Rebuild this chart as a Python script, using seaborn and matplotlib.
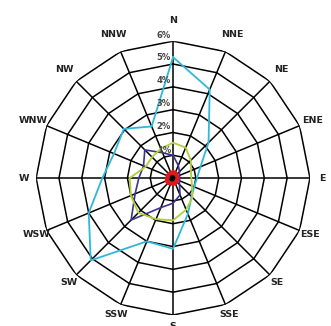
import numpy as np
import pandas as pd
import matplotlib
matplotlib.use("Agg")
import matplotlib.pyplot as plt
import seaborn as sns

directions = ["N", "NNE", "NE", "ENE", "E", "ESE", "SE", "SSE",
              "S", "SSW", "SW", "WSW", "W", "WNW", "NW", "NNW"]
cyan_vals = [5.3, 4.2, 2.2, 1.3, 1.05, 1.0, 1.15, 1.7,
             3.1, 3.0, 5.1, 4.0, 3.1, 2.8, 3.05, 2.45]
navy_vals = [1.0, 0.6, 0.4, 0.3, 0.3, 0.3, 0.4, 0.8,
             1.1, 1.4, 2.6, 1.8, 1.5, 1.4, 1.75, 1.2]
green_vals = [1.55, 1.45, 1.1, 0.85, 0.8, 0.9, 1.2, 1.5,
              1.85, 1.95, 2.15, 2.0, 1.9, 1.3, 1.3, 1.4]
red_vals = [0.25, 0.25, 0.2, 0.2, 0.2, 0.2, 0.2, 0.25,
            0.25, 0.25, 0.3, 0.3, 0.25, 0.25, 0.25, 0.25]
ring_labels = ["1%", "2%", "3%", "4%", "5%", "6%"]
ring_values = [1, 2, 3, 4, 5, 6]

series = {"cyan": cyan_vals, "navy": navy_vals, "green": green_vals, "red": red_vals}
palette = {"cyan": "#2fb8d8", "navy": "#3b3590", "green": "#b2cc3a", "red": "#e01818"}
widths = {"cyan": 1.3, "navy": 1.2, "green": 1.3, "red": 3.0}

angles = np.deg2rad(np.arange(len(directions)) * 22.5)
rows = []
for name, vals in series.items():
    for i in range(len(directions) + 1):
        k = i % len(directions)
        rows.append({"series": name, "order": i, "theta": angles[k], "r": vals[k]})
df = pd.DataFrame(rows)

sns.set_style("white")
fig = plt.figure(figsize=(3.31, 3.26), dpi=100)
ax = fig.add_axes([0.1088, 0.0337, 0.828, 0.840], projection="polar")
ax.set_theta_zero_location("N")
ax.set_theta_direction(-1)
ax.grid(False)
ax.spines["polar"].set_visible(False)
ax.set_facecolor("none")

closed = np.append(angles, angles[0])
for rv in ring_values:
    ax.plot(closed, [rv] * len(closed), color="black", lw=1.1, zorder=1)
for a in angles:
    ax.plot([a, a], [0, ring_values[-1]], color="black", lw=1.1, zorder=1)

for name in series:
    sub = df[df["series"] == name]
    sns.lineplot(data=sub, x="theta", y="r", sort=False, estimator=None,
                 color=palette[name], lw=widths[name], ax=ax, legend=False, zorder=3)
ax.set_xlabel("")
ax.set_ylabel("")
ax.set_xticks([])
ax.set_yticks([])
ax.set_ylim(0, 6)

px_per_unit = 23.0
for a, d in zip(angles, directions):
    r_px = 154 + 4.5 * np.cos(a) - 3.5 * abs(np.sin(a))
    ax.text(a, r_px / px_per_unit, d, ha="center", va="center", fontsize=6.8,
            fontweight="bold", color="#222222", clip_on=False)
for rv, lab in zip(ring_values, ring_labels):
    off = np.rad2deg(np.arctan2(9.5, rv * px_per_unit + 6))
    ax.text(np.deg2rad(-off), rv + 0.28, lab, ha="center", va="center",
            fontsize=6, fontweight="bold", color="#444444", zorder=4)

fig.savefig("out.png", dpi=100)
